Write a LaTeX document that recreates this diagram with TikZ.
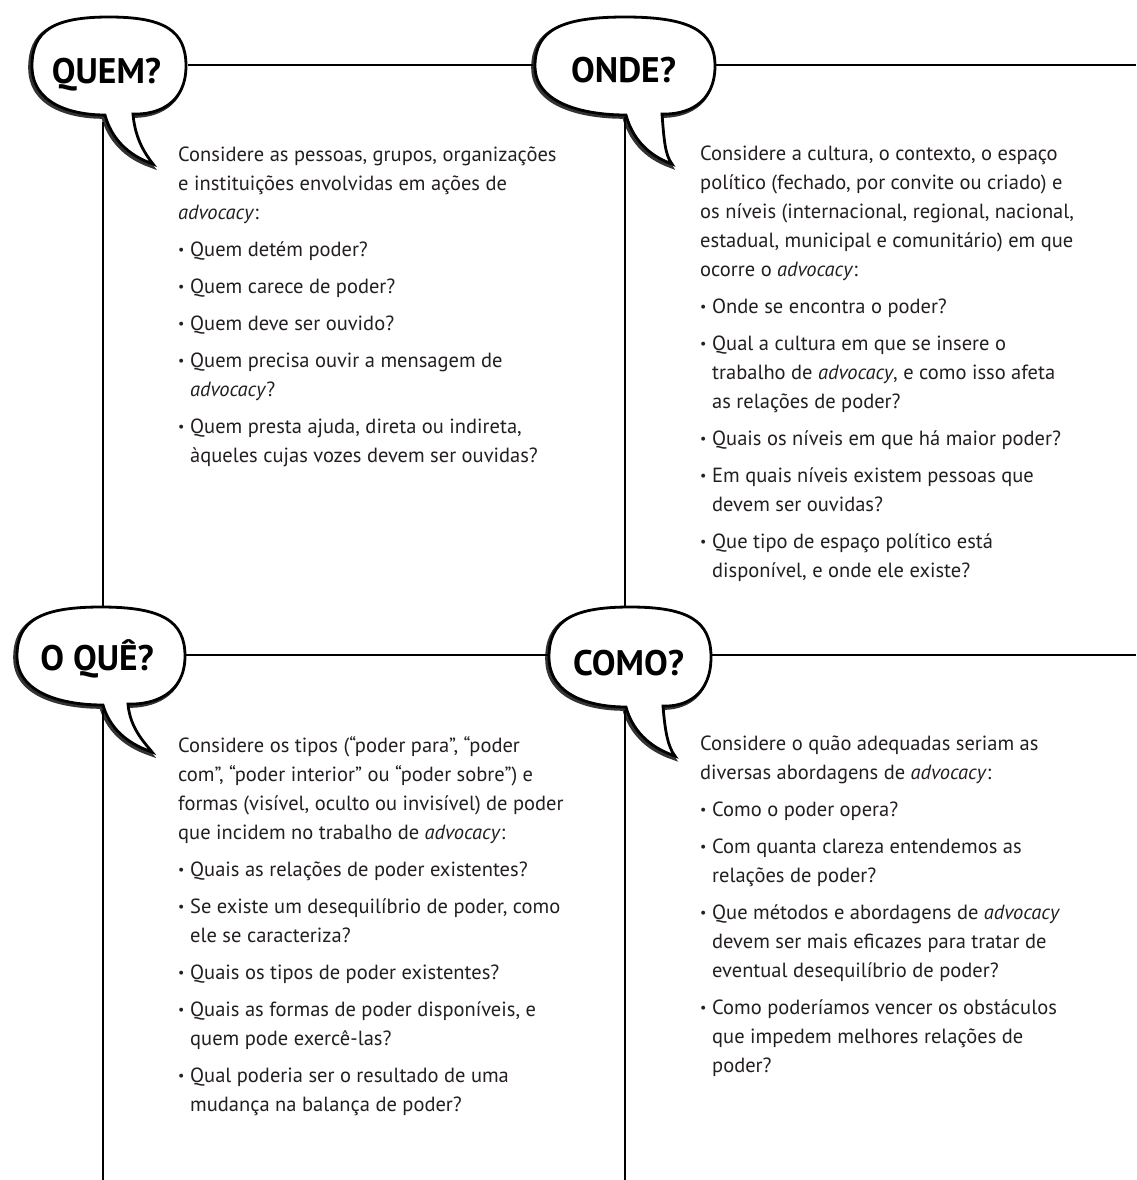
\documentclass[tikz,border=0pt]{standalone}
\usepackage{fontspec}
\setmainfont{PT Sans}
\definecolor{ink}{HTML}{231F20}
% speech bubble outline: centre (#1,#2), half sizes #3,#4,
% tail bases at x=#5 (right) and x=#6 (left), tail tip (#7,#8)
\newcommand{\bubblepath}[8]{%
  ({#1},{#2-#4}) .. controls ({#1+0.72*#3},{#2-#4}) and ({#1+#3},{#2-0.72*#4}) .. ({#1+#3},{#2})
  .. controls ({#1+#3},{#2+0.78*#4}) and ({#5+0.45*(#1+#3-#5)},{#2+#4}) .. ({#5},{#2+#4-1})
  .. controls ({#5+2},{#2+#4+0.5*(#8-#2-#4)}) and ({#7-7},{#8-9}) .. ({#7},{#8})
  .. controls ({#6+0.45*(#7-#6)},{#8-9}) and ({#6+6},{#2+#4+0.45*(#8-#2-#4)}) .. ({#6},{#2+#4})
  .. controls ({#6-0.45*(#6-#1+#3)},{#2+#4}) and ({#1-#3},{#2+0.78*#4}) .. ({#1-#3},{#2})
  .. controls ({#1-#3},{#2-0.72*#4}) and ({#1-0.72*#3},{#2-#4}) .. cycle}
\newcommand{\speechbubble}[8]{%
  \draw[bubbleshadow, shift={(-1.8,1.8)}] \bubblepath{#1}{#2}{#3}{#4}{#5}{#6}{#7}{#8};
  \draw[bubbleedge] \bubblepath{#1}{#2}{#3}{#4}{#5}{#6}{#7}{#8};}
\newcommand{\itm}{\makebox[12pt][l]{\raisebox{0.1em}{\fontsize{14}{14}\selectfont\textbullet}}}
\newcommand{\cnt}{\hspace*{12pt}}
\begin{document}
\begin{tikzpicture}[x=1pt,y=-1pt,
  rule/.style={line width=1.2pt, draw=black},
  bubbleshadow/.style={line width=4pt, draw=black, opacity=0.8},
  bubbleedge/.style={line width=2.8pt, draw=black, fill=white},
  title/.style={font=\fontsize{35.5}{35.5}\selectfont\bfseries, inner sep=0pt, anchor=base, text=black},
  % first line carries a strut, so the top edge lies 0.7*29pt above its baseline
  body/.style={font=\fontsize{20.5}{29}\selectfont, align=left, anchor=north west,
               inner sep=0pt, text=ink, yshift=20.3pt},
 ]
\useasboundingbox[fill=white] (0,0) rectangle (1136,1180);

% anchor points on the bubble outlines and the page edges
\coordinate (quem-e) at (188,65);
\coordinate (onde-w) at (533,65);
\coordinate (onde-e) at (716,65);
\coordinate (top-end) at (1136,65);
\coordinate (oque-e) at (186,655);
\coordinate (como-w) at (548,655);
\coordinate (como-e) at (712,655);
\coordinate (mid-end) at (1136,655);
\coordinate (quem-s) at (103,122);
\coordinate (oque-n) at (103,606);
\coordinate (oque-s) at (103,710);
\coordinate (left-end) at (103,1180);
\coordinate (onde-s) at (625,117);
\coordinate (como-n) at (625,606);
\coordinate (como-s) at (625,710);
\coordinate (right-end) at (625,1180);

% grid rules
\draw[rule] (quem-e) -- (onde-w);
\draw[rule] (onde-e) -- (top-end);
\draw[rule] (oque-e) -- (como-w);
\draw[rule] (como-e) -- (mid-end);
\draw[rule] (quem-s) -- (oque-n);
\draw[rule] (oque-s) -- (left-end);
\draw[rule] (onde-s) -- (como-n);
\draw[rule] (como-s) -- (right-end);

% speech bubbles
\speechbubble{109}{66}{77}{49}{133}{105}{153}{164}
\speechbubble{625}{66}{90}{49}{662}{626}{672}{164}
\speechbubble{101}{656}{84}{49}{128}{103}{152}{752}
\speechbubble{630}{657}{81}{50}{663}{626}{675}{756}

\node[title] (quem) at (106.5,83.5) {QUEM?};
\node[title] (onde) at (623.5,82.5) {ONDE?};
\node[title] (oque) at (97,670.5) {O QUÊ?};
\node[title] (como) at (628.5,675) {COMO?};

% QUEM?
\node[body] (quem-txt) at (178,161) {%
\strut Considere as pessoas, grupos, organizações\\
e instituições envolvidas em ações de\\
\textit{advocacy}:\\[8pt]
\itm Quem detém poder?\\[8pt]
\itm Quem carece de poder?\\[8pt]
\itm Quem deve ser ouvido?\\[8pt]
\itm Quem precisa ouvir a mensagem de\\
\cnt\textit{advocacy}?\\[8pt]
\itm Quem presta ajuda, direta ou indireta,\\
\cnt àqueles cujas vozes devem ser ouvidas?};

% ONDE?
\node[body] (onde-txt) at (700,160) {%
\strut Considere a cultura, o contexto, o espaço\\
político (fechado, por convite ou criado) e\\
os níveis (internacional, regional, nacional,\\
estadual, municipal e comunitário) em que\\
ocorre o \textit{advocacy}:\\[8pt]
\itm Onde se encontra o poder?\\[8pt]
\itm Qual a cultura em que se insere o\\
\cnt trabalho de \textit{advocacy}, e como isso afeta\\
\cnt as relações de poder?\\[8pt]
\itm Quais os níveis em que há maior poder?\\[8pt]
\itm Em quais níveis existem pessoas que\\
\cnt devem ser ouvidas?\\[8pt]
\itm Que tipo de espaço político está\\
\cnt disponível, e onde ele existe?};

% O QUÊ?
\node[body] (oque-txt) at (178,752) {%
\strut Considere os tipos (“poder para”, “poder\\
com”, “poder interior” ou “poder sobre”) e\\
formas (visível, oculto ou invisível) de poder\\
que incidem no trabalho de \textit{advocacy}:\\[8pt]
\itm Quais as relações de poder existentes?\\[8pt]
\itm Se existe um desequilíbrio de poder, como\\
\cnt ele se caracteriza?\\[8pt]
\itm Quais os tipos de poder existentes?\\[8pt]
\itm Quais as formas de poder disponíveis, e\\
\cnt quem pode exercê-las?\\[8pt]
\itm Qual poderia ser o resultado de uma\\
\cnt mudança na balança de poder?};

% COMO?
\node[body] (como-txt) at (700,750) {%
\strut Considere o quão adequadas seriam as\\
diversas abordagens de \textit{advocacy}:\\[8pt]
\itm Como o poder opera?\\[8pt]
\itm Com quanta clareza entendemos as\\
\cnt relações de poder?\\[8pt]
\itm Que métodos e abordagens de \textit{advocacy}\\
\cnt devem ser mais eficazes para tratar de\\
\cnt eventual desequilíbrio de poder?\\[8pt]
\itm Como poderíamos vencer os obstáculos\\
\cnt que impedem melhores relações de\\
\cnt poder?};
\end{tikzpicture}
\end{document}
